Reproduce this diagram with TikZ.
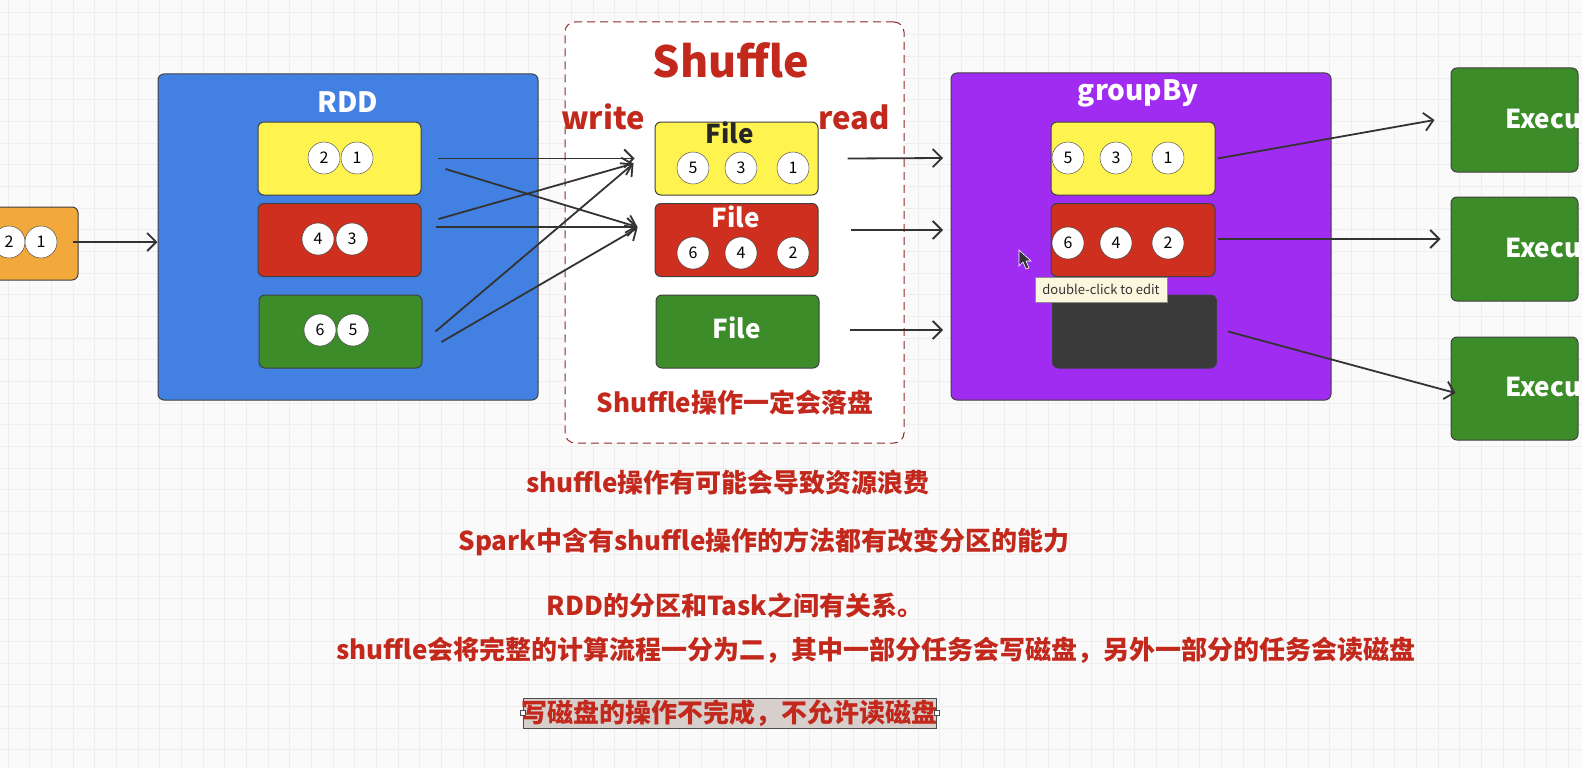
\documentclass[tikz,border=0pt]{standalone}
\usepackage{fontspec}
\setmainfont{Noto Sans CJK SC}
\usetikzlibrary{arrows.meta}
\definecolor{paper}{HTML}{FAFAFA}
\definecolor{gridc}{HTML}{EEEEEE}
\definecolor{rddblue}{HTML}{4281E2}
\definecolor{grpviolet}{HTML}{A02CF2}
\definecolor{partyellow}{HTML}{FFF44F}
\definecolor{partred}{HTML}{CE2F1F}
\definecolor{partgreen}{HTML}{3D8C2A}
\definecolor{partdark}{HTML}{3A3A3A}
\definecolor{srcorange}{HTML}{F3A83C}
\definecolor{notered}{HTML}{C2291C}
\definecolor{dashred}{HTML}{8E2B2B}
\definecolor{tipcream}{HTML}{FBF7DF}
\definecolor{selgray}{HTML}{D7CFCC}

\begin{document}
\begin{tikzpicture}[x=1pt, y=-1pt,
    box/.style={draw=black!75, rounded corners=6, line width=1},
    part/.style={box, minimum width=163, minimum height=73, inner sep=0},
    ball/.style={circle, draw=black!80, fill=white, minimum size=32, inner sep=0,
                 font=\fontsize{16}{16}\selectfont},
    arr/.style={draw=black!80, line width=1.8, -{Straight Barb[length=9pt,width=18pt]}},
    head/.style={font=\bfseries\fontsize{28}{28}\selectfont, text=white},
    note/.style={font=\bfseries\fontsize{26}{26}\selectfont, text=notered}
  ]
  \clip (0,0) rectangle (1582,768);
  \fill[paper] (0,0) rectangle (1582,768);
  \draw[gridc, line width=1, step=21.67pt, xshift=8, yshift=-13] (-30,-30) grid (1610,800);

  \node[box, fill=srcorange, minimum width=108, minimum height=73] (src) at (24,243.5) {};
  \node[ball] (s2) at (9,242) {2};
  \node[ball] (s1) at (41,242) {1};

  \node[box, fill=rddblue, minimum width=380, minimum height=326] (rdd) at (348,237) {};
  \node[head] at (348,102) {RDD};
  \node[part, fill=partyellow] (ry) at (339.5,158.5) {};
  \node[part, fill=partred] (rr) at (339.5,240) {};
  \node[part, fill=partgreen] (rg) at (340.5,331.5) {};
  \node[ball] at (324,158) {2};
  \node[ball] at (357,158) {1};
  \node[ball] at (318,239) {4};
  \node[ball] at (352,239) {3};
  \node[ball] at (320,330) {6};
  \node[ball] at (353,330) {5};

  \node[draw=dashred, dash pattern=on 8pt off 5pt, fill=white, rounded corners=10, line width=1,
        minimum width=339, minimum height=421] (shuf) at (734.5,232.5) {};
  \node[font=\bfseries\fontsize{43}{43}\selectfont, text=notered] at (731,60) {Shuffle};
  \node[font=\bfseries\fontsize{31}{31}\selectfont, text=notered] at (603,117) {write};
  \node[font=\bfseries\fontsize{31}{31}\selectfont, text=notered] at (854,117) {read};
  \node[part, fill=partyellow] (fy) at (736.5,158.5) {};
  \node[part, fill=partred] (fr) at (736.5,240) {};
  \node[part, fill=partgreen] (fg) at (737.5,331.5) {};
  \node[font=\bfseries\fontsize{26}{26}\selectfont, text=black!85] at (730,133) {File};
  \node[head, font=\bfseries\fontsize{26}{26}\selectfont] at (736,217) {File};
  \node[head, font=\bfseries\fontsize{26}{26}\selectfont] at (737,328) {File};
  \node[ball] at (693,168) {5};
  \node[ball] at (741,168) {3};
  \node[ball] at (793,168) {1};
  \node[ball] at (693,253) {6};
  \node[ball] at (741,253) {4};
  \node[ball] at (793,253) {2};
  \node[font=\bfseries\fontsize{26}{26}\selectfont, text=notered] at (735,402) {Shuffle操作一定会落盘};

  \node[box, fill=grpviolet, minimum width=380, minimum height=327] (grp) at (1141,236.5) {};
  \node[head] at (1138,93) {groupBy};
  \node[part, fill=partyellow, minimum width=164] (gy) at (1133,158.5) {};
  \node[part, fill=partred, minimum width=164] (gr) at (1133,240) {};
  \node[part, fill=partdark, minimum width=164] (gd) at (1134.5,331.5) {};
  \node[ball] at (1068,158) {5};
  \node[ball] at (1116,158) {3};
  \node[ball] at (1168,158) {1};
  \node[ball] at (1068,243) {6};
  \node[ball] at (1116,243) {4};
  \node[ball] at (1168,243) {2};

  \node[box, fill=partgreen, minimum width=127, minimum height=104] (ex1) at (1514.5,120) {};
  \node[box, fill=partgreen, minimum width=127, minimum height=104] (ex2) at (1514.5,249) {};
  \node[box, fill=partgreen, minimum width=127, minimum height=103] (ex3) at (1514.5,388.5) {};
  \node[head, font=\bfseries\fontsize{26}{26}\selectfont, anchor=west, inner sep=0] at (1505,119) {Execu};
  \node[head, font=\bfseries\fontsize{26}{26}\selectfont, anchor=west, inner sep=0] at (1505,248) {Execu};
  \node[head, font=\bfseries\fontsize{26}{26}\selectfont, anchor=west, inner sep=0] at (1505,387) {Execu};

  \coordinate (in1) at (943,158);
  \coordinate (in2) at (943,230);
  \coordinate (in3) at (943,330);

  \draw[arr] ([xshift=-6,yshift=1.5]src.east) -- (rdd.west |- s1);
  \draw[arr] ([xshift=16]ry.east) -- ([xshift=-20]fy.west);
  \draw[arr] ([xshift=24,yshift=-10.5]ry.east) -- ([xshift=-17,yshift=13]fr.west);
  \draw[arr] ([xshift=17,yshift=21]rr.east) -- ([xshift=-21,yshift=-5]fy.west);
  \draw[arr] ([xshift=14,yshift=13]rr.east) -- ([xshift=-17,yshift=13]fr.west);
  \draw[arr] ([xshift=13]rg.east) -- ([xshift=-21,yshift=-5]fy.west);
  \draw[arr] ([xshift=19,yshift=-10.5]rg.east) -- ([xshift=-17,yshift=12]fr.west);
  \draw[arr] ([xshift=29]fy.east) -- (in1);
  \draw[arr] ([xshift=32,yshift=10]fr.east) -- (in2);
  \draw[arr] ([xshift=30,yshift=1.5]fg.east) -- (in3);
  \draw[arr] ([xshift=2]gy.east) -- ([xshift=-16]ex1.west);
  \draw[arr] ([xshift=2,yshift=1]gr.east) -- ([xshift=-10,yshift=10]ex2.west);
  \draw[arr] ([xshift=11]gd.east) -- ([xshift=5,yshift=-4.5]ex3.west);

  \node[draw=black!45, fill=tipcream, minimum width=132, minimum height=25, inner sep=0,
        font=\fontsize{13}{13}\selectfont, text=black!80] (tip) at (1101,289.5) {double-click to edit};
  \fill[black!80, draw=white, line width=0.6] (1019,250) -- (1019,266) -- (1023,262) -- (1026,269)
    -- (1029,268) -- (1026,261) -- (1031,261) -- cycle;

  \node[note] at (728,483) {shuffle操作有可能会导致资源浪费};
  \node[note] at (764,542) {Spark中含有shuffle操作的方法都有改变分区的能力};
  \node[note] at (735,605) {RDD的分区和Task之间有关系。};
  \node[note] at (876,650) {shuffle会将完整的计算流程一分为二，其中一部分任务会写磁盘，另外一部分的任务会读磁盘};
  \node[draw=black!70, fill=selgray, minimum width=413, minimum height=30, inner sep=0] (sel) at (729.5,713) {};
  \node[note] at (sel) {写磁盘的操作不完成，不允许读磁盘};
  \node[draw=black!70, fill=white, minimum size=5, inner sep=0] at (sel.west) {};
  \node[draw=black!70, fill=white, minimum size=5, inner sep=0] at (sel.east) {};
\end{tikzpicture}
\end{document}
